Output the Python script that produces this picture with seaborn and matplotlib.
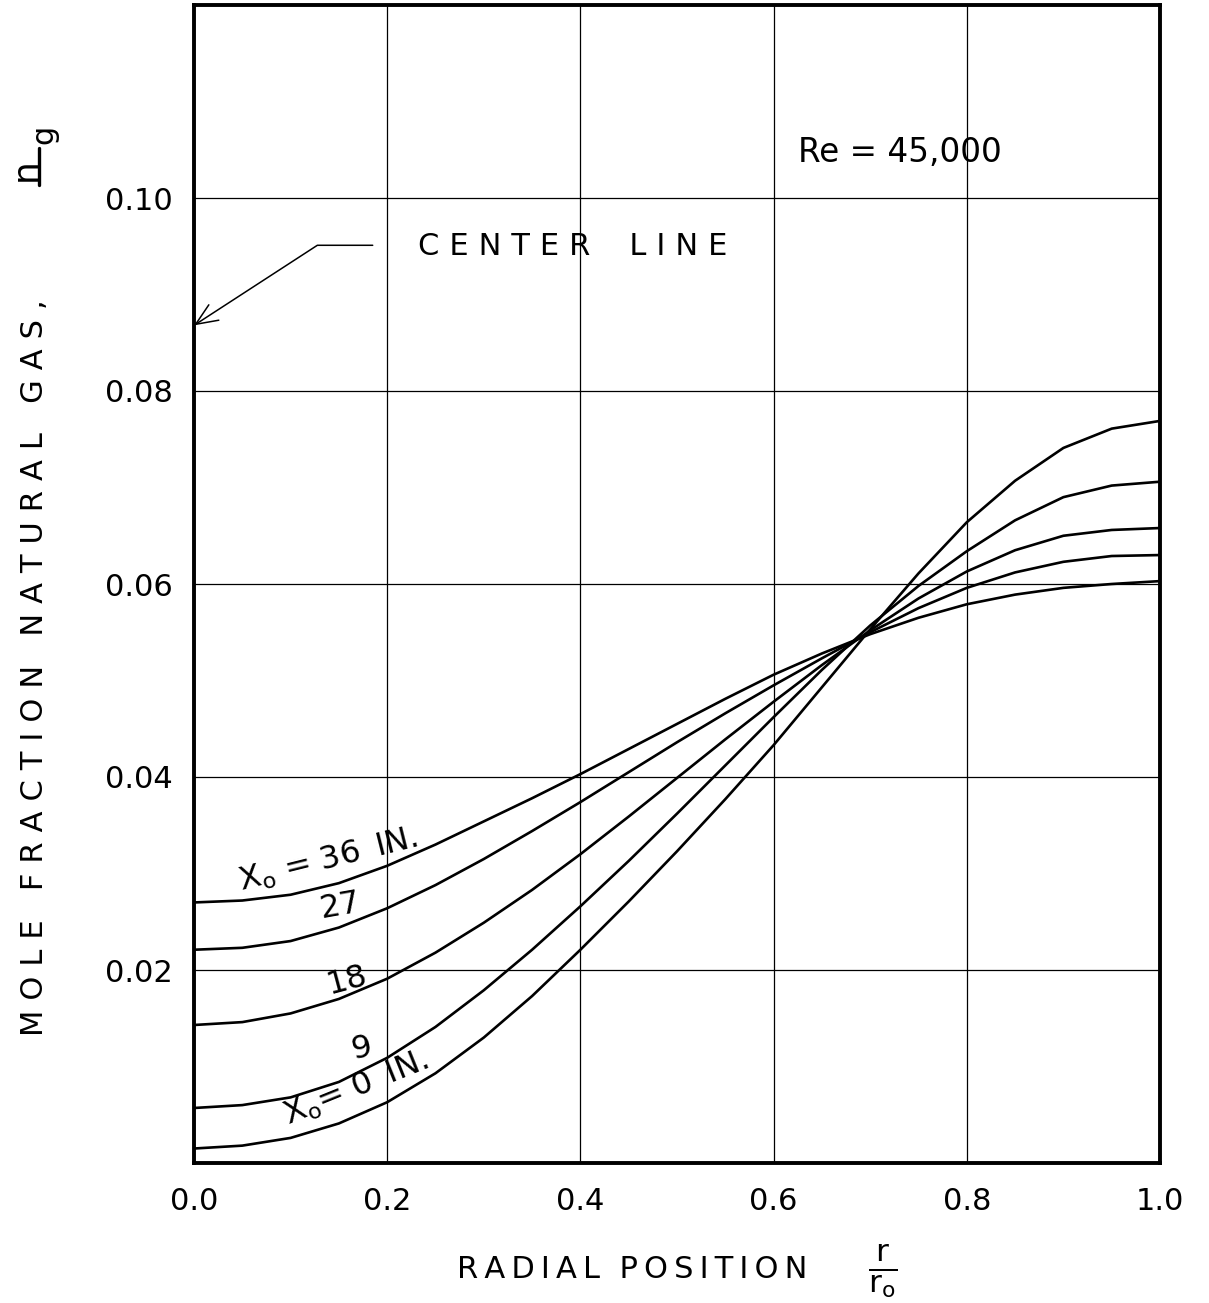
import numpy as np
import pandas as pd
import matplotlib
matplotlib.use("Agg")
import matplotlib.pyplot as plt
from matplotlib.lines import Line2D
import seaborn as sns

# Radial position r/r0 and mole fraction of natural gas for each axial station
r_pos = [0.00, 0.05, 0.10, 0.15, 0.20, 0.25, 0.30, 0.35, 0.40, 0.45, 0.50,
         0.55, 0.60, 0.65, 0.70, 0.75, 0.80, 0.85, 0.90, 0.95, 1.00]

ng_x0_0 = [0.0015, 0.0018, 0.0026, 0.0041, 0.0063, 0.0093, 0.0130, 0.0173,
           0.0221, 0.0271, 0.0323, 0.0377, 0.0433, 0.0493, 0.0553, 0.0611,
           0.0664, 0.0707, 0.0741, 0.0761, 0.0769]
ng_x0_9 = [0.0057, 0.0060, 0.0068, 0.0084, 0.0109, 0.0141, 0.0179, 0.0221,
           0.0266, 0.0313, 0.0362, 0.0412, 0.0462, 0.0511, 0.0557, 0.0598,
           0.0634, 0.0666, 0.0690, 0.0702, 0.0706]
ng_x0_18 = [0.0143, 0.0146, 0.0155, 0.0170, 0.0191, 0.0218, 0.0249, 0.0283,
            0.0320, 0.0359, 0.0399, 0.0439, 0.0478, 0.0516, 0.0552, 0.0585,
            0.0613, 0.0635, 0.0650, 0.0656, 0.0658]
ng_x0_27 = [0.0221, 0.0223, 0.0230, 0.0244, 0.0264, 0.0288, 0.0315, 0.0344,
            0.0374, 0.0405, 0.0436, 0.0466, 0.0495, 0.0523, 0.0550, 0.0575,
            0.0596, 0.0612, 0.0623, 0.0629, 0.0630]
ng_x0_36 = [0.0270, 0.0272, 0.0278, 0.0290, 0.0308, 0.0330, 0.0354, 0.0378,
            0.0403, 0.0429, 0.0455, 0.0481, 0.0506, 0.0528, 0.0548, 0.0565,
            0.0579, 0.0589, 0.0596, 0.0600, 0.0603]

stations = [0, 9, 18, 27, 36]
series = [ng_x0_0, ng_x0_9, ng_x0_18, ng_x0_27, ng_x0_36]

x_ticks = [0.0, 0.2, 0.4, 0.6, 0.8, 1.0]
x_tick_labels = ["0.0", "0.2", "0.4", "0.6", "0.8", "1.0"]
y_ticks = [0.02, 0.04, 0.06, 0.08, 0.10]
y_tick_labels = ["0.02", "0.04", "0.06", "0.08", "0.10"]

df = pd.DataFrame({
    "r": np.tile(r_pos, len(stations)),
    "ng": np.concatenate(series),
    "x0": np.repeat(stations, len(r_pos)),
})

sns.set_theme(style="white")
plt.rcParams["font.family"] = ["DejaVu Sans"]
plt.rcParams["mathtext.fontset"] = "dejavusans"

W, H = 1209, 1303
fig = plt.figure(figsize=(W / 100, H / 100), dpi=100)
ax = fig.add_axes([194 / W, 1 - 1163 / H, (1160 - 194) / W, (1163 - 5) / H])

sns.lineplot(data=df, x="r", y="ng", hue="x0", units="x0", estimator=None,
             palette=["black"] * len(stations), linewidth=1.9, legend=False,
             ax=ax)
for ln in ax.get_lines():
    ln.set_solid_joinstyle("round")

ax.set_xlim(0, 1.0)
ax.set_ylim(0, 0.12)
ax.set_xticks(x_ticks)
ax.set_xticklabels(x_tick_labels)
ax.set_yticks(y_ticks)
ax.set_yticklabels(y_tick_labels)
ax.tick_params(axis="both", length=0, labelsize=22, colors="black")
ax.tick_params(axis="y", pad=15)
ax.tick_params(axis="x", pad=17)
ax.set_xlabel("")
ax.set_ylabel("")
ax.grid(True, color="black", linewidth=0.9, linestyle="-")
for s in ax.spines.values():
    s.set_color("black")
    s.set_linewidth(2.8)
    s.set_visible(True)

thin = "\u2009"   # thin space
wide = "\u2004"   # three-per-em space


def spaced(word, sep):
    return sep.join(word)


# Curve labels
lab_kw = dict(fontsize=23, color="black", ha="center", va="center",
              rotation_mode="anchor")
ax.text(0.139, 0.0314, r"X$_\mathregular{o}$ = 36 " + thin + "IN.", rotation=14, **lab_kw)
ax.text(0.151, 0.0266, "27", rotation=10, **lab_kw)
ax.text(0.158, 0.0189, "18", rotation=15, **lab_kw)
ax.text(0.174, 0.0119, "9", rotation=12, **lab_kw)
ax.text(0.167, 0.0077, r"X$_\mathregular{o}$= 0 " + thin + "IN.", rotation=22, **lab_kw)

# Reynolds number
ax.text(0.625, 0.1047, "Re = 45,000", fontsize=23.5,
        color="black", ha="left", va="center")

# Center line callout
ax.text(0.232, 0.0950, spaced("CENTER", wide) + "    " + spaced("LINE", wide),
        fontsize=22, color="black", ha="left", va="center")
ax.annotate("", xy=(0.0, 0.0868), xytext=(0.185, 0.0951),
            arrowprops=dict(arrowstyle="->,head_length=1.3,head_width=0.55",
                            color="black", linewidth=1.1,
                            connectionstyle="angle,angleA=0,angleB=33,rad=0",
                            shrinkA=0, shrinkB=0))

# Axis titles
ylab = "   ".join(spaced(w, wide) for w in ["MOLE", "FRACTION", "NATURAL", "GAS,"])
fig.text(35 / W, 1 - 668 / H, ylab, rotation=90, fontsize=22, color="black",
         ha="center", va="center")
fig.text(26 / W, 1 - 170 / H, "n", rotation=90, fontsize=26, color="black",
         ha="center", va="center")
fig.text(44 / W, 1 - 134 / H, "g", rotation=90, fontsize=22, color="black",
         ha="center", va="center")
fig.add_artist(Line2D([39 / W, 39 / W], [1 - 185 / H, 1 - 148 / H],
                      color="black", linewidth=2.4, transform=fig.transFigure))

xlab = "  ".join(spaced(w, thin) for w in ["RADIAL", "POSITION"])
fig.text(632 / W, 1 - 1270 / H, xlab, fontsize=22, color="black",
         ha="center", va="center")
fig.text(883 / W, 1 - 1271 / H,
         r"$\frac{\mathregular{r}}{\mathregular{r_o}}$", fontsize=32,
         color="black", ha="center", va="center")

fig.savefig("out.png", dpi=100, facecolor="white")
